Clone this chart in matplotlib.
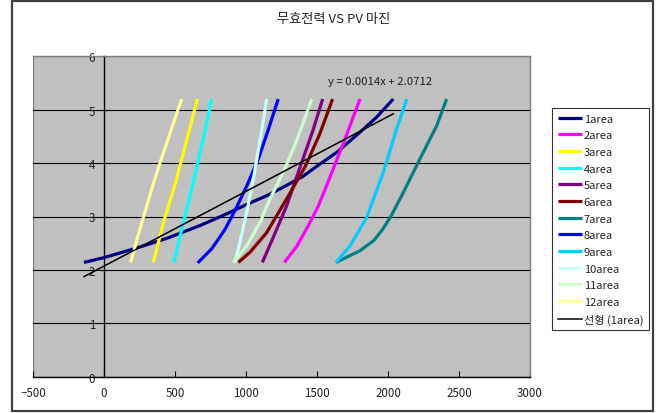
import matplotlib

matplotlib.use("Agg")

import numpy as np
import matplotlib.pyplot as plt
from matplotlib.patches import Rectangle


# 지역별 PV 곡선 (x: 무효전력, y: 전압)
area1_x = [-141, 0, 206, 441, 676, 864, 1000, 1146, 1263, 1400, 1530, 1639, 1803, 1920, 2037]
area1_y = [2.14, 2.23, 2.39, 2.59, 2.83, 3.05, 3.22, 3.39, 3.55, 3.75, 4.0, 4.2, 4.58, 4.86, 5.2]
area2_x = [1270, 1360, 1439, 1510, 1568, 1690, 1803]
area2_y = [2.14, 2.45, 2.83, 3.2, 3.58, 4.4, 5.2]
area3_x = [347, 420, 500, 575, 657]
area3_y = [2.14, 2.9, 3.6, 4.35, 5.2]
area4_x = [493, 560, 625, 695, 758]
area4_y = [2.14, 2.9, 3.6, 4.4, 5.2]
area5_x = [1115, 1192, 1286, 1392, 1470, 1540]
area5_y = [2.14, 2.61, 3.2, 4.01, 4.6, 5.2]
area6_x = [946, 1028, 1146, 1286, 1420, 1520, 1610]
area6_y = [2.14, 2.33, 2.70, 3.33, 3.95, 4.55, 5.2]
area7_x = [1634, 1803, 1900, 1960, 2020, 2108, 2225, 2343, 2413]
area7_y = [2.14, 2.36, 2.55, 2.75, 3.0, 3.45, 4.08, 4.70, 5.2]
area8_x = [660, 760, 850, 930, 1010, 1090, 1160, 1227]
area8_y = [2.13, 2.4, 2.75, 3.15, 3.6, 4.1, 4.65, 5.2]
area9_x = [1634, 1732, 1850, 1967, 2061, 2132]
area9_y = [2.14, 2.45, 2.98, 3.83, 4.64, 5.2]
area10_x = [922, 965, 1010, 1055, 1100, 1146]
area10_y = [2.14, 2.6, 3.15, 3.75, 4.45, 5.2]
area11_x = [911, 1005, 1099, 1169, 1263, 1357, 1463]
area11_y = [2.14, 2.45, 2.89, 3.33, 3.83, 4.42, 5.2]
area12_x = [188, 235, 285, 340, 400, 470, 547]
area12_y = [2.14, 2.6, 3.05, 3.55, 4.05, 4.6, 5.2]

AREA_X = [area1_x, area2_x, area3_x, area4_x, area5_x, area6_x,
          area7_x, area8_x, area9_x, area10_x, area11_x, area12_x]
AREA_Y = [area1_y, area2_y, area3_y, area4_y, area5_y, area6_y,
          area7_y, area8_y, area9_y, area10_y, area11_y, area12_y]
AREA_NAMES = [f"{i}area" for i in range(1, 13)]
AREA_COLORS = ["#000080", "#FF00FF", "#FFFF00", "#00FFFF", "#800080", "#800000",
               "#008080", "#0000FF", "#00CCFF", "#CCFFFF", "#CCFFCC", "#FFFF99"]

# 1area 선형 추세선
TREND_SLOPE = 0.0014
TREND_INTERCEPT = 2.0712

X_TICKS = [-500, 0, 500, 1000, 1500, 2000, 2500, 3000]
Y_TICKS = [0, 1, 2, 3, 4, 5, 6]

FONT = ["Liberation Sans Narrow", "Noto Sans CJK KR", "DejaVu Sans"]

W, H = 659, 414


def main():
    plt.rcParams["font.family"] = FONT
    fig = plt.figure(figsize=(W / 100, H / 100), dpi=100)
    fig.patch.set_facecolor("white")

    # 차트 영역 테두리
    fig.patches.append(Rectangle((12 / W, 2 / H), (653 - 12) / W, (412 - 1.5) / H,
                                 transform=fig.transFigure, fill=False,
                                 edgecolor="#404040", linewidth=1.6))

    left, top, right, bottom = 33, 57.3, 530, 377.7
    ax = fig.add_axes([left / W, 1 - bottom / H, (right - left) / W, (bottom - top) / H])
    ax.set_facecolor("#C0C0C0")

    for y in Y_TICKS[1:-1]:
        ax.axhline(y, color="black", lw=0.8, zorder=1)

    for xs, ys, name, color in zip(AREA_X, AREA_Y, AREA_NAMES, AREA_COLORS):
        ax.plot(xs, ys, color=color, lw=2.3, label=name, zorder=3,
                solid_capstyle="butt", solid_joinstyle="round")

    tx = np.array([min(area1_x), max(area1_x)])
    ax.plot(tx, TREND_SLOPE * tx + TREND_INTERCEPT, color="black", lw=1.1,
            label="선형 (1area)", zorder=4)
    ax.text(1945, 5.53, f"y = {TREND_SLOPE}x + {TREND_INTERCEPT}", ha="center",
            va="center", fontsize=8.2, color="#222222")

    ax.set_xlim(X_TICKS[0], X_TICKS[-1])
    ax.set_ylim(Y_TICKS[0], Y_TICKS[-1])
    ax.set_xticks(X_TICKS)
    ax.set_yticks(Y_TICKS)

    ax.spines["left"].set_position(("data", 0))
    ax.spines["left"].set_color("black")
    ax.spines["left"].set_linewidth(1.0)
    ax.spines["bottom"].set_color("black")
    ax.spines["bottom"].set_linewidth(1.0)
    for side in ("top", "right"):
        ax.spines[side].set_color("#808080")
        ax.spines[side].set_linewidth(1.0)
    ax.add_patch(Rectangle((0, 0), 1, 1, transform=ax.transAxes, fill=False,
                           edgecolor="#808080", lw=1.0, zorder=0.5))

    ax.tick_params(axis="x", direction="in", length=4, pad=7, labelsize=8.3,
                   colors="black")
    ax.tick_params(axis="y", direction="inout", length=5, pad=4, labelsize=8.3,
                   colors="black")
    for lbl in ax.get_xticklabels() + ax.get_yticklabels():
        lbl.set_color("#222222")

    fig.text(334 / W, 1 - 20 / H, "무효전력 VS PV 마진", ha="center", va="center",
             fontsize=9.5, color="#222222", family=["Noto Sans CJK KR", "DejaVu Sans"])

    leg = ax.legend(loc="upper left", bbox_to_anchor=(552 / W, 1 - 109 / H),
                    bbox_transform=fig.transFigure, fontsize=8, frameon=True,
                    fancybox=False, edgecolor="black", facecolor="white",
                    borderaxespad=0, handlelength=2.2, handletextpad=0.15,
                    labelspacing=0.6, borderpad=0.5)
    leg.get_frame().set_linewidth(0.8)
    for text in leg.get_texts():
        text.set_color("#222222")

    fig.savefig("out.png", dpi=100)
    plt.close(fig)


if __name__ == "__main__":
    main()
